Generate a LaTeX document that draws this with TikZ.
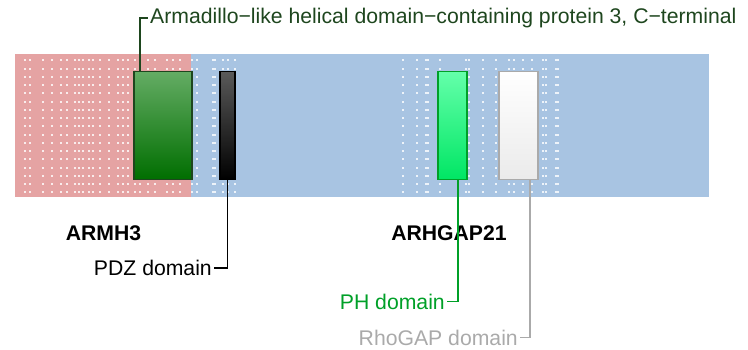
\documentclass[tikz,border=0pt]{standalone}
\usepackage{fontspec}
\setmainfont{Liberation Sans}
\usepackage{xcolor}
\definecolor{armpink}{RGB}{229,163,163}
\definecolor{arhblue}{RGB}{168,196,226}
\definecolor{armgreen}{RGB}{30,70,30}
\definecolor{phgreen}{RGB}{0,160,40}
\definecolor{rhogray}{RGB}{170,170,170}
\usepackage{tikz}
\usetikzlibrary{positioning, calc}

\tikzset{
  domainbox/.style={draw, line width=1.5pt, rectangle, inner sep=0pt, anchor=north west,
    minimum height=108pt},
  domlabel/.style={font=\fontsize{21.2}{25}\selectfont, inner sep=2pt},
  protlabel/.style={font=\fontsize{21.2}{25}\selectfont\bfseries, inner sep=0pt},
  pin/.style={line width=1.5pt}
}

\begin{document}
\begin{tikzpicture}[x=1pt, y=-1pt]
  \useasboundingbox (0,0) rectangle (748,350);

  % Protein backgrounds
  \fill[armpink] (15,54) rectangle (191,197);
  \fill[arhblue] (191,54) rectangle (709,197);

  % Dotted grid
  \foreach \x in {25,30,43,52,61,67,75,79,83,89,93,100,109,118,123,128,135,140,148,155,167,173,180,192,197,213,215,223,228,235,
                  403,417,426,428,440,466,469,483,496,509,514,523,532,543,546,556,558}
    \foreach \r in {0,...,16}
      \fill[white, opacity=0.8] ({\x-0.9},{59.5+\r*8.25}) rectangle +(1.8,1.8);

  % Domain boxes
  \node[domainbox, minimum width=58pt, draw=armgreen, top color={rgb,255:red,100;green,172;blue,100}, bottom color={rgb,255:red,0;green,110;blue,0}] (armbox) at (133,71) {};
  \node[domainbox, minimum width=15pt, draw=black, top color=black!65, bottom color=black] (pdzbox) at (219,71) {};
  \node[domainbox, minimum width=29pt, draw=phgreen, top color={rgb,255:red,100;green,255;blue,170}, bottom color={rgb,255:red,0;green,230;blue,100}] (phbox) at (437,71) {};
  \node[domainbox, minimum width=39pt, draw=rhogray, top color=white, bottom color=black!8] (rhobox) at (498,71) {};

  % Protein names
  \node[protlabel] (armh3) at (103.5,233) {ARMH3};
  \node[protlabel] (arhgap21) at (449,233) {ARHGAP21};

  % Domain labels
  \node[domlabel, anchor=west, text=armgreen] (armlabel) at (148,18) {Armadillo−like helical domain−containing protein 3, C−terminal};
  \node[domlabel, anchor=east, text=black] (pdzlabel) at (214,268) {PDZ domain};
  \node[domlabel, anchor=east, text=phgreen] (phlabel) at (447,301.5) {PH domain};
  \node[domlabel, anchor=east, text=rhogray] (rholabel) at (520,337.5) {RhoGAP domain};

  % Connectors
  \draw[pin, armgreen] ([xshift=7pt]armbox.north west) |- (armlabel.west);
  \draw[pin, black] (pdzbox.south) |- (pdzlabel.east);
  \draw[pin, phgreen] ([xshift=21pt]phbox.south west) |- (phlabel.east);
  \draw[pin, rhogray] ([xshift=32pt]rhobox.south west) |- (rholabel.east);
\end{tikzpicture}
\end{document}
